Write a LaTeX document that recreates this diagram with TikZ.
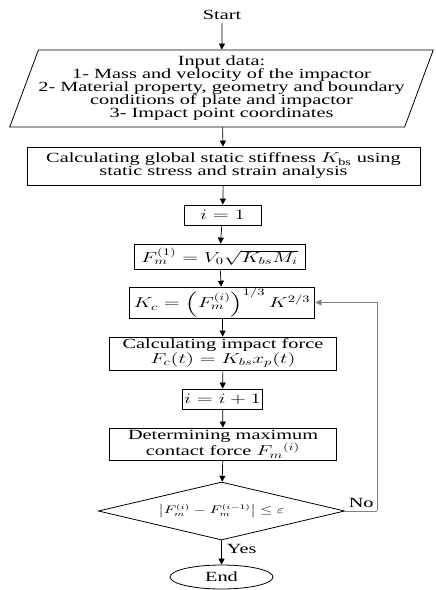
\documentclass[tikz,border=0pt]{standalone}
\usepackage{amsmath}
\usepackage{amssymb}
\usepackage{fontspec}
\setmainfont{Liberation Serif}
\usetikzlibrary{arrows.meta, shapes.geometric}

\tikzset{
  stepbox/.style={draw, line width=0.8pt, align=center, inner sep=1pt},
  flow/.style={-{Triangle[length=6pt, width=6pt]}, line width=0.7pt},
}

\begin{document}
\begin{tikzpicture}[x=0.6897pt, y=-1pt, xscale=1.45,
  every node/.append style={transform shape, font=\fontsize{14}{13}\selectfont}]
\useasboundingbox (0,0) rectangle (435,590);
\node (start) at (222,15) {Start};
\node[draw, line width=0.8pt, trapezium, trapezium left angle=73, trapezium right angle=107,
  trapezium stretches body, minimum width=277pt, minimum height=77pt, inner sep=0pt,
  align=center] (input) at (221.5,88.5) {
  Input data:\\
  1- Mass and velocity of the impactor\\
  2- Material property, geometry and boundary\\
  conditions of plate and impactor\\
  3- Impact point coordinates};
\node[stepbox, minimum width=271pt, minimum height=38pt] (stiff) at (223.5,166)
  {Calculating global static stiffness $K_{\mathrm{bs}}$ using\\ static stress and strain analysis};
\node[stepbox, minimum width=53pt, minimum height=20pt] (ione) at (222.5,215) {$i=1$};
\node[stepbox, minimum width=118pt, minimum height=25pt] (fmone) at (219.5,256.5)
  {$F_m^{(1)}=V_0\sqrt{K_{bs}M_i}$};
\node[stepbox, minimum width=128pt, minimum height=29pt] (kc) at (222,302.5)
  {$K_c=\left(F_m^{(i)}\right)^{1/3}K^{2/3}$};
\node[stepbox, minimum width=157pt, minimum height=33pt] (force) at (223,353.5)
  {Calculating impact force\\ $F_c(t)=K_{bs}x_p(t)$};
\node[stepbox, minimum width=53pt, minimum height=20pt] (inext) at (222.5,399) {$i=i+1$};
\node[stepbox, minimum width=157pt, minimum height=32pt] (fmax) at (223,444)
  {Determining maximum\\ contact force $F_m{}^{(i)}$};
\node[draw, line width=0.8pt, diamond, aspect=2.9, inner sep=1pt, minimum width=170pt,
  minimum height=58pt, font=\fontsize{10.5}{12}\selectfont] (check) at (221.5,511)
  {$\left|F_m^{(i)}-F_m^{(i-1)}\right|\le\varepsilon$};
\node[draw, line width=0.8pt, ellipse, minimum width=71pt, minimum height=24pt] (stop) at (221.5,577) {End};
\coordinate (back) at (377,511);
\draw[flow] (start) -- (input);
\draw[flow] (input) -- (stiff);
\draw[flow] (stiff) -- (ione);
\draw[flow] (ione) -- (fmone);
\draw[flow] (fmone) -- (kc);
\draw[flow] (kc) -- (force);
\draw[flow] (force) -- (inext);
\draw[flow] (inext) -- (fmax);
\draw[flow] (fmax) -- (check);
\draw[flow] (check) -- node[right, pos=0.35] {Yes} (stop);
\draw[line width=0.7pt, gray] (check.east) -- node[above, black] {No} (back);
\draw[flow, gray] (back) |- (kc.east);
\end{tikzpicture}
\end{document}
